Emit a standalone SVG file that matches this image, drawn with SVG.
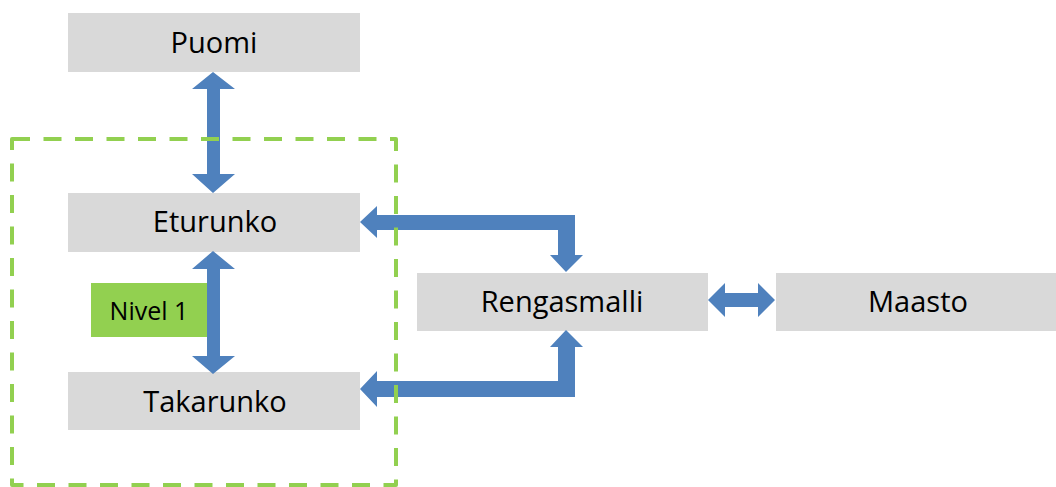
<svg xmlns="http://www.w3.org/2000/svg" width="1056" height="487" viewBox="0 0 1056 487">
  <style>
    .box { fill: #D9D9D9; }
    .lbl { font-family: "Open Sans", "Liberation Sans", sans-serif; font-size: 29px; fill: #000; text-anchor: middle; }
    .arrow { fill: #4F81BD; }
    .frame { fill: none; stroke: #92D050; stroke-width: 4; stroke-dasharray: 18 13.5; stroke-linejoin: round; }
  </style>
  <rect width="1056" height="487" fill="#fff"/>

  <g id="puomi">
    <rect class="box" x="68" y="13" width="292" height="59"/>
    <text class="lbl" x="214" y="53">Puomi</text>
  </g>
  <g id="eturunko">
    <rect class="box" x="68" y="193" width="292" height="59"/>
    <text class="lbl" x="215" y="232">Eturunko</text>
  </g>
  <g id="takarunko">
    <rect class="box" x="68" y="372" width="292" height="58"/>
    <text class="lbl" x="215" y="412">Takarunko</text>
  </g>
  <g id="rengasmalli">
    <rect class="box" x="417" y="273" width="291" height="58"/>
    <text class="lbl" x="562" y="312">Rengasmalli</text>
  </g>
  <g id="maasto">
    <rect class="box" x="776" y="273" width="280" height="58"/>
    <text class="lbl" x="918" y="312">Maasto</text>
  </g>
  <g id="nivel1">
    <rect x="91" y="283" width="118" height="54" fill="#92D050"/>
    <text class="lbl" x="149" y="320" style="font-size:25px">Nivel 1</text>
  </g>

  <g id="connectors">
    <polygon class="arrow" points="213,72 235,89 220,89 220,174 235,174 213,193 192,174 207,174 207,89 192,89"/>
    <polygon class="arrow" points="213,251 235,269 220,269 220,356 235,356 213,374 192,356 207,356 207,269 192,269"/>
    <polygon class="arrow" points="360,222 377,206 377,215 575,215 575,255 583,255 566,272 550,255 558,255 558,230 377,230 377,238"/>
    <polygon class="arrow" points="360,389 377,371 377,381 558,381 558,347 550,347 566,330 583,347 575,347 575,397 377,397 377,407"/>
    <polygon class="arrow" points="708,300 725,283 725,293 758,293 758,283 775,300 758,317 758,307 725,307 725,317"/>
  </g>

  <g id="group-frame">
    <rect class="frame" x="12" y="139" width="384" height="346"/>
  </g>
</svg>
